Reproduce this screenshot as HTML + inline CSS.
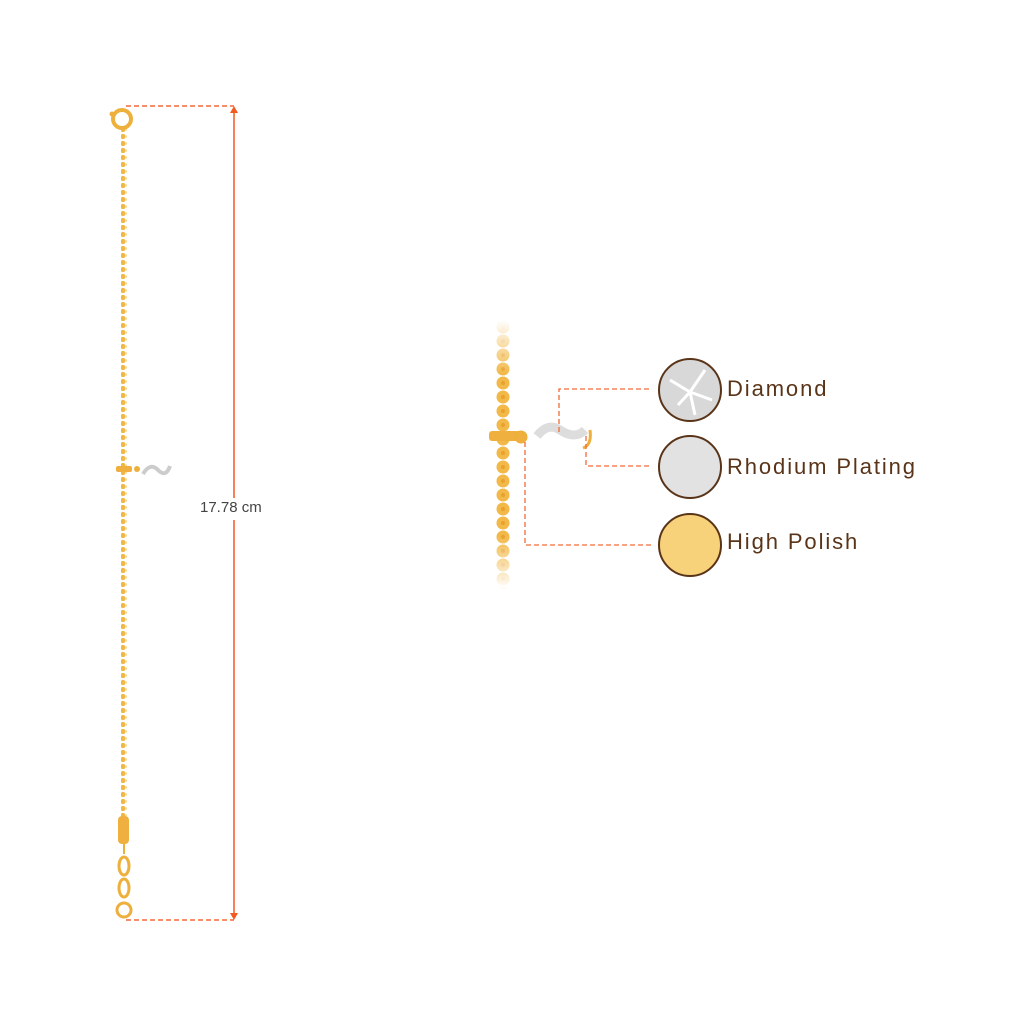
<!DOCTYPE html>
<html><head><style>
body{margin:0;width:1024px;height:1024px;background:#fff;position:relative;overflow:hidden;font-family:"Liberation Sans",sans-serif}
.t{position:absolute;color:#5a3418;font-size:22px;letter-spacing:1.9px}
</style></head><body>
<svg width="1024" height="1024" style="position:absolute;left:0;top:0">
<defs><pattern id="ch" width="6" height="7" patternUnits="userSpaceOnUse"><circle cx="3" cy="3.5" r="2.6" fill="#f0b845"/></pattern>
<pattern id="ch2" x="494" y="320" width="18" height="14" patternUnits="userSpaceOnUse"><circle cx="9" cy="7" r="6.5" fill="#f2b948"/><circle cx="9" cy="7" r="2" fill="#e8a030"/></pattern>
<linearGradient id="fd" x1="0" y1="0" x2="0" y2="1"><stop offset="0" stop-color="#fff" stop-opacity="1"/><stop offset="0.2" stop-color="#fff" stop-opacity="0"/><stop offset="0.8" stop-color="#fff" stop-opacity="0"/><stop offset="1" stop-color="#fff" stop-opacity="1"/></linearGradient></defs>
<rect x="121" y="128" width="6" height="688" fill="url(#ch)"/>
<circle cx="122" cy="119" r="9" fill="none" stroke="#eeb03c" stroke-width="4"/>
<circle cx="112" cy="114" r="2.5" fill="#eeb03c"/>
<rect x="118" y="816" width="11" height="28" rx="4" fill="#f0b040"/>
<rect x="123" y="844" width="2" height="10" fill="#eeb03c"/>
<ellipse cx="124" cy="866" rx="5" ry="9" fill="none" stroke="#eeb03c" stroke-width="3"/>
<ellipse cx="124" cy="888" rx="5" ry="9" fill="none" stroke="#eeb03c" stroke-width="3"/>
<circle cx="124" cy="910" r="7" fill="none" stroke="#eeb03c" stroke-width="3"/>
<rect x="116" y="466" width="16" height="6" rx="2" fill="#f0b040"/>
<circle cx="137" cy="469" r="3" fill="#eeb03c"/>
<path d="M143 474 Q150 462 158 470 T170 466" stroke="#ccc" stroke-width="4" fill="none"/>
<line x1="126" y1="106" x2="234" y2="106" stroke="#f26a3a" stroke-width="1.5" stroke-dasharray="5,3"/>
<line x1="126" y1="920" x2="234" y2="920" stroke="#f26a3a" stroke-width="1.5" stroke-dasharray="5,3"/>
<line x1="234" y1="110" x2="234" y2="916" stroke="#f25a20" stroke-width="1.5"/>
<path d="M230 113 L234 106 L238 113Z M230 913 L234 920 L238 913Z" fill="#f25a20"/>
<rect x="195" y="498" width="80" height="22" fill="#fff"/>
<rect x="494" y="320" width="18" height="270" fill="url(#ch2)"/>
<rect x="490" y="320" width="26" height="270" fill="url(#fd)"/>
<rect x="489" y="431" width="36" height="10" rx="3" fill="#f0b040"/>
<circle cx="521" cy="437" r="5" fill="none" stroke="#eeb03c" stroke-width="3"/>
<path d="M537 436 Q548 422 560 430 Q575 440 585 430" stroke="#ddd" stroke-width="9" fill="none"/>
<path d="M590 430 Q592 445 583 448" stroke="#eeb03c" stroke-width="3" fill="none"/>
<g stroke="#f26a3a" stroke-width="1.3" stroke-dasharray="5,3" fill="none">
<polyline points="559,432 559,389 651,389"/>
<polyline points="586,436 586,466 651,466"/>
<polyline points="525,442 525,545 651,545"/>
</g>
<circle cx="690" cy="390" r="31" fill="#d8d8d8" stroke="#5a3418" stroke-width="2"/>
<path d="M670 380 L690 392 L705 370 M678 405 L690 392 L712 400 M690 392 L695 415" stroke="#fff" stroke-width="3" fill="none"/>
<circle cx="690" cy="467" r="31" fill="#e2e2e2" stroke="#5a3418" stroke-width="2"/>
<circle cx="690" cy="545" r="31" fill="#f7d27a" stroke="#5a3418" stroke-width="2"/>
</svg>
<div class="t" style="left:200px;top:499px;font-size:15px;color:#444;letter-spacing:0">17.78 cm</div>
<div class="t" style="left:727px;top:376px">Diamond</div>
<div class="t" style="left:727px;top:454px">Rhodium Plating</div>
<div class="t" style="left:727px;top:529px">High Polish</div>
</body></html>
